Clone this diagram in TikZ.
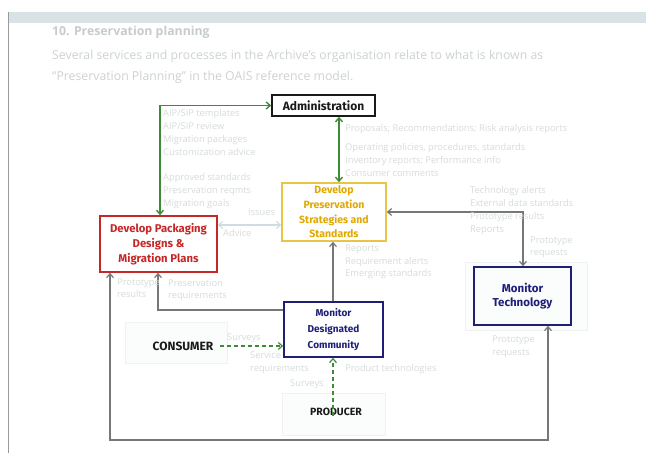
\documentclass[tikz,border=0pt]{standalone}
\usepackage{fontspec}
\setmainfont{Open Sans}
\newfontfamily\handfont{Fira Sans}
\usetikzlibrary{arrows.meta}

\definecolor{barcol}{HTML}{D9E3E6}
\definecolor{framecol}{HTML}{9A9A9A}
\definecolor{headcol}{HTML}{C6CBCD}
\definecolor{paracol}{HTML}{CDD2D4}
\definecolor{faintcol}{HTML}{D6DCDA}
\definecolor{faintarrow}{HTML}{CFDCE2}
\definecolor{panelfill}{HTML}{FBFCFC}
\definecolor{paneldraw}{HTML}{F0F2F2}
\definecolor{inkblack}{HTML}{1A1A1A}
\definecolor{inkgreen}{HTML}{3D8B37}
\definecolor{inkgrey}{HTML}{777777}
\definecolor{inkred}{HTML}{C62828}
\definecolor{inkyellow}{HTML}{E8C547}
\definecolor{textyellow}{HTML}{E0A800}
\definecolor{inknavy}{HTML}{1F1F7A}

\tikzset{
  handtip/.tip={Straight Barb[length=4pt,width=7pt]},
  handbox/.style={draw, line width=1.6pt, align=center, inner sep=0pt,
    font=\handfont\bfseries\fontsize{10}{15}\selectfont},
  handtext/.style={inner sep=0pt, text=inkblack,
    font=\handfont\bfseries\fontsize{12}{14}\selectfont},
  faintlabel/.style={anchor=north west, align=left, inner sep=0pt, text=faintcol,
    font=\fontsize{9.3}{13}\selectfont},
  panel/.style={draw=paneldraw, fill=panelfill, line width=0.6pt},
  greenline/.style={draw=inkgreen, line width=1.4pt},
  greyline/.style={draw=inkgrey, line width=1.2pt},
  faintline/.style={draw=faintarrow, line width=1.2pt},
}

\begin{document}
\begin{tikzpicture}[x=1pt,y=-1pt]
\useasboundingbox (0,0) rectangle (646,453);
\fill[white] (0,0) rectangle (646,453);

% status bar and page frame
\fill[barcol] (8,12) rectangle (646,23);
\draw[framecol, line width=1pt] (8.5,12) -- (8.5,453);

% page heading and introduction
\node[anchor=west, inner sep=0pt, text=headcol, font=\bfseries\fontsize{12.3}{14}\selectfont] (title) at (52,32) {10. Preservation planning};
\node[anchor=north west, align=left, inner sep=0pt, text=paracol, font=\fontsize{12.3}{20.5}\selectfont] (intro) at (52,50)
  {Several services and processes in the Archive's organisation relate to what is known as\\``Preservation Planning'' in the OAIS reference model.};

% faint background panels
\draw[panel] (125,322) rectangle (227,363);
\draw[panel] (282,393) rectangle (385,435);
\draw[panel] (465,262) rectangle (587,330);

% function boxes
\node[handbox, draw=inkblack, text=inkblack, minimum width=103pt, minimum height=21pt, font=\handfont\bfseries\fontsize{12}{14}\selectfont] (admin) at (323.5,105.5) {Administration};
\node[handbox, draw=inkyellow, text=textyellow, minimum width=104pt, minimum height=58pt, font=\handfont\bfseries\fontsize{10.5}{14.7}\selectfont] (yellow) at (334,212)
  {Develop\\Preservation\\Strategies and\\Standards};
\node[handbox, draw=inkred, text=inkred, minimum width=117pt, minimum height=56pt, font=\handfont\bfseries\fontsize{11.3}{15}\selectfont] (red) at (158.5,244)
  {Develop Packaging\\Designs \&\\Migration Plans};
\node[handbox, draw=inknavy, text=inknavy, minimum width=99pt, minimum height=55pt, font=\handfont\bfseries\fontsize{10}{16}\selectfont] (mdc) at (333.5,329.5)
  {Monitor\\Designated\\Community};
\node[handbox, draw=inknavy, text=inknavy, minimum width=97pt, minimum height=58pt, font=\handfont\bfseries\fontsize{11.5}{13.5}\selectfont] (tech) at (522.5,296)
  {Monitor\\Technology};

% external entities
\node[handtext] (consumer) at (183,346) {CONSUMER};
\node[handtext, font=\handfont\bfseries\fontsize{10.5}{12}\selectfont] (producer) at (336,412) {PRODUCER};

% connectors
\draw[greenline, handtip-handtip] (admin.west) -| (red.north -| 160,0);
\draw[greenline, handtip-handtip] (admin.south -| 339,0) -- (yellow.north -| 339,0);
\draw[greyline, handtip-handtip] (yellow.east) -| (tech.north -| 523,0);
\draw[greyline, -handtip] (mdc.north -| 333,0) -- (yellow.south -| 333,0);
\draw[greyline, -handtip] (mdc.west |- 0,310) -| (red.south -| 158,0);
\coordinate (loopleft) at (110,440);
\draw[greyline, handtip-handtip] (red.south -| 110,0) -- (loopleft) -| (tech.south -| 548,0);
\draw[faintline, handtip-handtip] (red.east |- 0,225) -- (yellow.west |- 0,225);
\draw[greenline, line width=1.2pt, dash pattern=on 4pt off 3pt, -handtip] ([xshift=6pt]consumer.east) -- (mdc.west |- consumer.east);
\draw[greenline, line width=1.2pt, dash pattern=on 4pt off 3pt, -handtip] ([yshift=-8pt]producer.north -| 333,0) -- (mdc.south -| 333,0);

% flow labels
\node[faintlabel] (l1) at (163,109.5) {AIP/SIP templates\\AIP/SIP review\\Migration packages\\Customization advice};
\node[faintlabel] (l2) at (163,173) {Approved standards\\Preservation reqmts\\Migration goals};
\node[faintlabel] (l3) at (345,124) {Proposals; Recommendations; Risk analysis reports};
\node[faintlabel] (l4) at (345,143) {Operating policies, procedures, standards\\Inventory reports; Performance info\\Consumer comments};
\node[faintlabel] (l5) at (470,186) {Technology alerts\\External data standards\\Prototype results\\Reports};
\node[faintlabel, font=\fontsize{9.3}{12}\selectfont] (l6) at (530,237) {Prototype\\requests};
\node[faintlabel] (l7) at (248,209) {Issues};
\node[faintlabel] (l8) at (223,229) {Advice};
\node[faintlabel, font=\fontsize{9.3}{12.5}\selectfont] (l9) at (345,245) {Reports\\Requirement alerts\\Emerging standards};
\node[faintlabel, font=\fontsize{9.3}{12}\selectfont] (l10) at (117,279) {Prototype\\results};
\node[faintlabel, font=\fontsize{9.3}{12}\selectfont] (l11) at (168,279) {Preservation\\requirements};
\node[faintlabel] (l12) at (227,334) {Surveys};
\node[faintlabel] (l13) at (250,351) {Service\\requirements};
\node[faintlabel] (l14) at (290,380) {Surveys};
\node[faintlabel] (l15) at (345,364) {Product technologies};
\node[faintlabel] (l16) at (492,336) {Prototype\\requests};
\end{tikzpicture}
\end{document}
